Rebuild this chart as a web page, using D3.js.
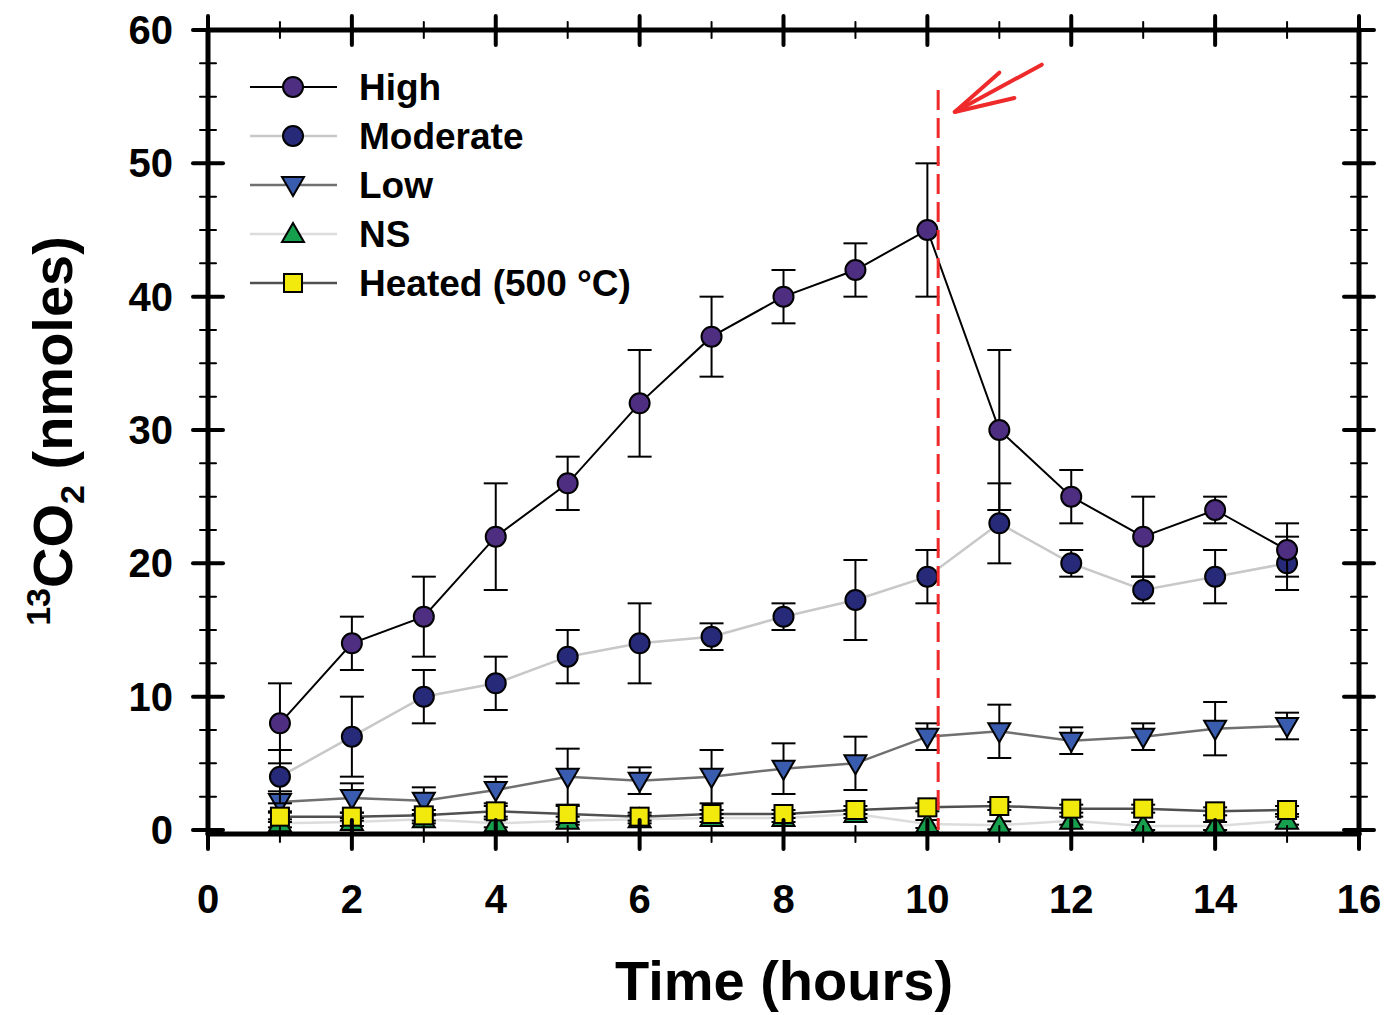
<!DOCTYPE html>
<html><head><meta charset="utf-8">
<script src="https://cdn.jsdelivr.net/npm/d3@7"></script>
<style>body{margin:0;background:#fff}svg{display:block}</style>
</head><body>
<script>
const hours = [1,2,3,4,5,6,7,8,9,10,11,12,13,14,15];
const highVal = [8,14,16,22,26,32,37,40,42,45,30,25,22,24,21];
const highErr = [3,2,3,4,2,4,3,2,2,5,6,2,3,1,2];
const modVal = [4,7,10,11,13,14,14.5,16,17.25,19,23,20,18,19,20];
const modErr = [2,3,2,2,2,3,1,1,3,2,3,1,1,2,2];
const lowVal = [2.1,2.4,2.2,3,4,3.7,4,4.6,5,7,7.4,6.7,7,7.6,7.8];
const lowErr = [0.8,1.1,1,1,2.1,1,2,1.9,2,1,2,1,1,2,1];
const nsVal = [0.5,0.6,0.8,0.5,0.7,0.8,0.9,0.9,1.2,0.45,0.35,0.7,0.3,0.3,0.7];
const nsErr = [0.3,0.3,0.3,0.3,0.3,0.3,0.3,0.3,0.3,0.3,0.3,0.3,0.3,0.3,0.3];
const heatVal = [1.0,1.0,1.1,1.4,1.2,1.0,1.2,1.2,1.5,1.7,1.8,1.6,1.6,1.4,1.5];
const heatErr = [0.4,0.3,0.4,0.4,0.6,0.3,0.3,0.3,0.3,0.3,0.3,0.3,0.3,0.3,0.3];
const xTicks = [0,2,4,6,8,10,12,14,16];
const xMinor = [1,3,5,7,9,11,13,15];
const yTicks = [0,10,20,30,40,50,60];
const yMinor = [2.5,5,7.5,12.5,15,17.5,22.5,25,27.5,32.5,35,37.5,42.5,45,47.5,52.5,55,57.5];
const seriesNames = ["High","Moderate","Low","NS","Heated (500 °C)"];
const markerX = 10.15; // vertical red dashed line position (hours)

const W=1395,H=1015;
const svg=d3.select("body").append("svg").attr("width",W).attr("height",H);
const x=d3.scaleLinear().domain([0,16]).range([208,1359]);
const y=d3.scaleLinear().domain([-0.3,60]).range([834,30]);
const FONT="'Liberation Sans', Arial, sans-serif";

const series=[
 {name:seriesNames[3],val:nsVal,err:nsErr,line:"#dcdcdc",lw:2.5,fill:"#16a04e",shape:"up"},
 {name:seriesNames[2],val:lowVal,err:lowErr,line:"#707070",lw:2.5,fill:"#3a5cae",shape:"down"},
 {name:seriesNames[4],val:heatVal,err:heatErr,line:"#505050",lw:2.5,fill:"#f2ea0c",shape:"square"},
 {name:seriesNames[1],val:modVal,err:modErr,line:"#c8c8c8",lw:2.5,fill:"#262a78",shape:"circle"},
 {name:seriesNames[0],val:highVal,err:highErr,line:"#000",lw:2,fill:"#4e2e80",shape:"circle"}
];

function marker(g,shape,fill,cx,cy){
  if(shape==="circle") g.append("circle").attr("cx",cx).attr("cy",cy).attr("r",10).attr("fill",fill).attr("stroke","#000").attr("stroke-width",2);
  else if(shape==="square") g.append("rect").attr("x",cx-9).attr("y",cy-9).attr("width",18).attr("height",18).attr("fill",fill).attr("stroke","#000").attr("stroke-width",2);
  else if(shape==="down") g.append("path").attr("d",`M${cx-11},${cy-8}L${cx+11},${cy-8}L${cx},${cy+11}Z`).attr("fill",fill).attr("stroke","#000").attr("stroke-width",2);
  else g.append("path").attr("d",`M${cx-11},${cy+8}L${cx+11},${cy+8}L${cx},${cy-11}Z`).attr("fill",fill).attr("stroke","#000").attr("stroke-width",2);
}

// lines
const line=d3.line().x((d,i)=>x(hours[i])).y(d=>y(d));
const gData=svg.append("g");
series.forEach(s=>{
  gData.append("path").attr("d",line(s.val)).attr("fill","none").attr("stroke",s.line).attr("stroke-width",s.lw);
});
series.forEach(s=>{
  const g=gData.append("g");
  s.val.forEach((v,i)=>{
    const cx=x(hours[i]);
    const y1=y(v+s.err[i]),y2=y(v-s.err[i]);
    g.append("line").attr("x1",cx).attr("x2",cx).attr("y1",y1).attr("y2",y2).attr("stroke","#000").attr("stroke-width",2);
    [y1,y2].forEach(yy=>g.append("line").attr("x1",cx-12).attr("x2",cx+12).attr("y1",yy).attr("y2",yy).attr("stroke","#000").attr("stroke-width",2));
  });
  s.val.forEach((v,i)=>marker(g,s.shape,s.fill,x(hours[i]),y(v)));
});

// axes frame
const ax=svg.append("g").attr("stroke","#000").attr("stroke-linecap","round");
const x0=x(0),x1=x(16),yb=y(-0.3),yt=y(60);
ax.append("line").attr("x1",x0).attr("x2",x1).attr("y1",yb).attr("y2",yb).attr("stroke-width",5);
ax.append("line").attr("x1",x0).attr("x2",x1).attr("y1",yt).attr("y2",yt).attr("stroke-width",5);
ax.append("line").attr("x1",x0).attr("x2",x0).attr("y1",yt).attr("y2",yb).attr("stroke-width",5);
ax.append("line").attr("x1",x1).attr("x2",x1).attr("y1",yt).attr("y2",yb).attr("stroke-width",5);
[yb,yt].forEach(yy=>{
  xTicks.forEach(t=>ax.append("line").attr("x1",x(t)).attr("x2",x(t)).attr("y1",yy-14).attr("y2",yy+15).attr("stroke-width",4));
  xMinor.forEach(t=>ax.append("line").attr("x1",x(t)).attr("x2",x(t)).attr("y1",yy-8).attr("y2",yy+8).attr("stroke-width",2));
});
[x0,x1].forEach(xx=>{
  yTicks.forEach(t=>ax.append("line").attr("y1",y(t)).attr("y2",y(t)).attr("x1",xx-15).attr("x2",xx+15).attr("stroke-width",4));
  yMinor.forEach(t=>ax.append("line").attr("y1",y(t)).attr("y2",y(t)).attr("x1",xx-8).attr("x2",xx+8).attr("stroke-width",2));
});

// tick labels
svg.append("g").selectAll("text").data(xTicks).join("text")
  .attr("x",d=>x(d)).attr("y",913).attr("text-anchor","middle")
  .attr("font-family",FONT).attr("font-weight","bold").attr("font-size",40).text(d=>d);
svg.append("g").selectAll("text").data(yTicks).join("text")
  .attr("x",173).attr("y",d=>y(d)+14).attr("text-anchor","end")
  .attr("font-family",FONT).attr("font-weight","bold").attr("font-size",40).text(d=>d);

// axis titles
svg.append("text").attr("x",784).attr("y",1000).attr("text-anchor","middle")
  .attr("font-family",FONT).attr("font-weight","bold").attr("font-size",56).text("Time (hours)");
const yt2=svg.append("text").attr("transform","translate(72,431) rotate(-90)").attr("text-anchor","middle")
  .attr("font-family",FONT).attr("font-weight","bold").attr("font-size",56);
yt2.append("tspan").attr("font-size",34).attr("dy",-22).text("13");
yt2.append("tspan").attr("dy",22).text("CO");
yt2.append("tspan").attr("font-size",34).attr("dy",12).text("2");
yt2.append("tspan").attr("dy",-12).text(" (nmoles)");

// legend
const legOrder=[4,3,1,0,2];
const lg=svg.append("g");
legOrder.forEach((si,k)=>{
  const s=series[si];
  const yy=87+k*49;
  lg.append("line").attr("x1",250).attr("x2",337).attr("y1",yy).attr("y2",yy).attr("stroke",s.line).attr("stroke-width",s.lw);
  marker(lg,s.shape,s.fill,293,yy);
  lg.append("text").attr("x",359).attr("y",yy+13).attr("font-family",FONT).attr("font-weight","bold").attr("font-size",37).text(s.name);
});

// red annotation
const red="#ee2a2a";
svg.append("line").attr("x1",x(markerX)).attr("x2",x(markerX)).attr("y1",y(55.5)).attr("y2",y(0))
  .attr("stroke",red).attr("stroke-width",3).attr("stroke-dasharray","20,8");
const tip=[x(10.38),y(53.85)];
const arr=svg.append("g").attr("stroke",red).attr("stroke-width",4).attr("stroke-linecap","round").attr("fill","none");
arr.append("path").attr("d",`M${x(11.59)},${y(57.4)}L${tip[0]},${tip[1]}`);
arr.append("path").attr("d",`M${x(11.0)},${y(56.8)}L${tip[0]},${tip[1]}L${x(11.21)},${y(54.9)}`);
</script>
</body></html>
